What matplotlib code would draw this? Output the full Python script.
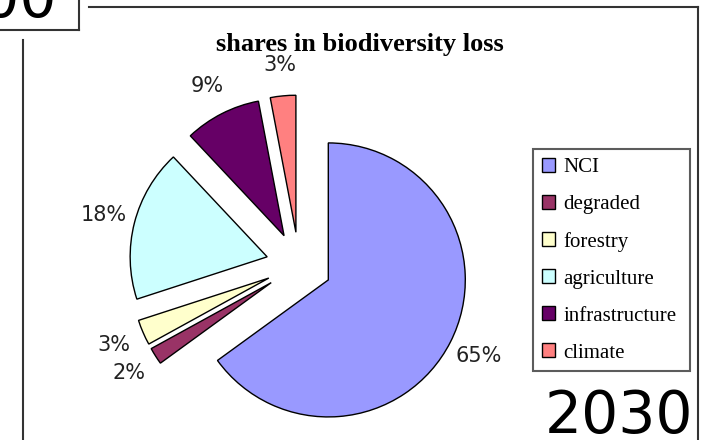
import matplotlib
matplotlib.use("Agg")
import matplotlib.pyplot as plt
from matplotlib.lines import Line2D

# data
categories = ["NCI", "degraded", "forestry", "agriculture", "infrastructure", "climate"]
shares = [65, 2, 3, 18, 9, 3]
colors = ["#9999FF", "#993366", "#FFFFCC", "#CCFFFF", "#660066", "#FF8080"]
title = "shares in biodiversity loss"
year_old = "2000"
year_new = "2030"

W, H = 703, 440
CX, CY, R = 299, 265, 137  # pie centre / radius in pixels


def fx(px):
    return px / W


def fy(py):
    return 1 - py / H


fig = plt.figure(figsize=(W / 100, H / 100), dpi=100)
ax = fig.add_axes([0, 0, 1, 1])

pct_labels = [f"{v}%" for v in shares]
wedges, texts = ax.pie(
    shares,
    colors=colors,
    explode=[0.24] * len(shares),
    startangle=90,
    counterclock=False,
    labels=pct_labels,
    labeldistance=1.23,
    wedgeprops=dict(edgecolor="black", linewidth=1),
    textprops=dict(family="DejaVu Sans", fontsize=15, color="#222222"),
)
for t in texts:
    t.set_ha("center")
    t.set_va("center")

ax.set_xlim(-CX / R, (W - CX) / R)
ax.set_ylim(-(H - CY) / R, CY / R)
ax.set_aspect("equal")
ax.axis("off")

fig.text(fx(360), fy(51), title, ha="center", va="baseline",
         family="Liberation Serif", weight="bold", fontsize=19)

leg = fig.legend(
    wedges, categories,
    loc="upper left",
    bbox_to_anchor=(fx(533), fy(368), 157 / W, 219 / H),
    mode="expand",
    borderaxespad=0,
    frameon=True,
    fancybox=False,
    handlelength=0.65,
    handleheight=0.65,
    handletextpad=0.4,
    labelspacing=0.85,
    borderpad=0.42,
    prop=dict(family="Liberation Serif", size=15),
)
leg.get_frame().set_edgecolor("#333333")
leg.get_frame().set_linewidth(1.5)

# outer frame and the box of the previous panel
frame_lines = [
    ((89, 7), (698, 7)),
    ((698, 7), (698, H)),
    ((23, 40), (23, H)),
    ((0, 30), (79, 30)),
    ((79, 30), (79, 0)),
]
for (x0, y0), (x1, y1) in frame_lines:
    fig.add_artist(Line2D([fx(x0), fx(x1)], [fy(y0), fy(y1)],
                          transform=fig.transFigure, color="#333333", lw=1.5))

fig.text(fx(57), fy(17), year_old, ha="right", va="baseline",
         family="DejaVu Sans", fontsize=42)
fig.text(fx(693), fy(433), year_new, ha="right", va="baseline",
         family="DejaVu Sans", fontsize=42)

fig.savefig("out.png", dpi=100)
